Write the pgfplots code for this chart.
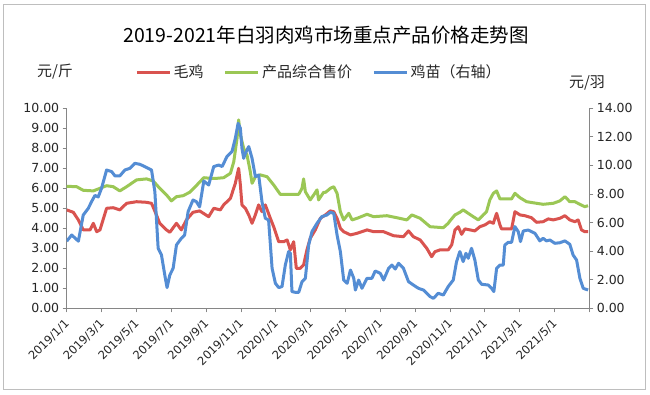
\documentclass[border=0pt]{standalone}
\usepackage{pgfplots}
\pgfplotsset{compat=1.18}
\usepackage{fontspec}
\setmainfont{DejaVu Sans}
\newfontfamily\cjk{Noto Sans CJK SC}
\definecolor{cred}{RGB}{217,83,79}
\definecolor{cgreen}{RGB}{155,199,85}
\definecolor{cblue}{RGB}{84,141,212}
\definecolor{axgray}{RGB}{134,134,134}
\definecolor{bordergray}{RGB}{190,190,190}
\begin{document}
\begin{tikzpicture}[x=1pt,y=1pt]
\path[use as bounding box, fill=white] (0,0) rectangle (650,394);
\draw[bordergray, line width=1pt] (3.5,4.5) rectangle (645,389);
\node[font=\cjk\fontsize{19.5}{22}\selectfont] at (326,359) {2019-2021年白羽肉鸡市场重点产品价格走势图};
\node[font=\cjk\fontsize{15}{17}\selectfont, text=black!85] at (55,322) {元/斤};
\node[font=\cjk\fontsize{15}{17}\selectfont, text=black!85] at (587,311) {元/羽};
\pgfplotsset{
  every axis/.append style={
    at={(66.7pt,85.7pt)}, anchor=south west, scale only axis,
    width=522.6pt, height=200pt, xmin=0, xmax=30,
    axis line style={axgray, line width=0.8pt},
    tick align=outside, major tick length=4pt,
    tick style={axgray, line width=0.8pt},
    ticklabel style={font=\fontsize{12.5}{14}\selectfont, text=black!85},
    /pgf/number format/.cd, fixed, fixed zerofill, precision=2, assume math mode=true,
  }
}
\begin{axis}[
  ymin=0, ymax=10, ytick={0,1,...,10},
  axis y line*=left, axis x line*=bottom,
  xtick={0,2,...,30},
  xticklabels={2019/1/1,2019/3/1,2019/5/1,2019/7/1,2019/9/1,2019/11/1,2020/1/1,2020/3/1,2020/5/1,2020/7/1,2020/9/1,2020/11/1,2021/1/1,2021/3/1,2021/5/1,{}},
  xticklabel style={xshift=3pt, yshift=-7pt, rotate=45, anchor=east, font=\fontsize{11.5}{13}\selectfont},
  legend columns=3,
  legend style={draw=none, fill=none, at={(0.125,1.18)}, anchor=west,
    font=\cjk\fontsize{15}{17}\selectfont, text=black!85,
    /tikz/every even column/.append style={column sep=18pt}},
  legend image code/.code={\draw[line width=3.5pt] (0pt,0pt) -- (33pt,0pt);},
]
\addplot[cred, line width=3pt, line join=round] coordinates {
(0,4.92)(0.38,4.8)(0.67,4.42)(0.95,3.92)(1.34,3.92)(1.53,4.25)(1.72,3.83)(1.91,3.92)(2.29,5.0)(2.67,5.03)(3.05,4.92)(3.44,5.25)(4.01,5.33)(4.58,5.3)(4.87,5.25)(5.15,4.67)(5.34,4.25)(5.73,3.92)(5.92,3.8)(6.30,4.25)(6.58,3.92)(6.87,4.42)(7.25,4.8)(7.63,4.87)(8.15,4.58)(8.44,5.0)(8.82,4.92)(9.01,5.17)(9.40,5.5)(9.68,6.25)(9.87,7.0)(9.97,6.17)(10.06,5.17)(10.26,5.0)(10.45,4.67)(10.64,4.25)(10.83,4.67)(11.02,5.17)(11.21,4.83)(11.40,5.17)(11.69,4.5)(11.88,4.08)(12.17,3.33)(12.46,3.33)(12.65,3.42)(12.84,2.92)(13.03,3.33)(13.18,2.0)(13.41,2.0)(13.60,2.17)(13.79,2.92)(13.98,3.5)(14.27,3.92)(14.56,4.5)(14.85,4.67)(15.13,4.87)(15.33,4.83)(15.52,4.5)(15.71,4.0)(15.90,3.83)(16.29,3.67)(16.67,3.75)(17.24,3.92)(17.62,3.83)(18.19,3.83)(18.76,3.63)(19.33,3.58)(19.62,3.87)(19.90,3.58)(20.29,3.42)(20.67,3.0)(20.95,2.58)(21.14,2.83)(21.43,2.92)(21.90,2.92)(22.10,3.17)(22.29,3.92)(22.48,4.08)(22.67,3.7)(22.86,3.97)(23.15,3.92)(23.43,3.87)(23.72,4.08)(24.01,4.17)(24.29,4.33)(24.49,4.25)(24.68,4.75)(24.87,4.17)(24.96,3.97)(25.54,3.97)(25.73,4.83)(26.02,4.67)(26.30,4.63)(26.68,4.53)(26.97,4.3)(27.35,4.33)(27.64,4.47)(27.93,4.42)(28.31,4.5)(28.60,4.63)(28.88,4.42)(29.17,4.33)(29.36,4.42)(29.55,3.92)(29.74,3.83)(29.93,3.83)
};
\addplot[cgreen, line width=3pt, line join=round] coordinates {
(0,6.1)(0.57,6.08)(0.95,5.9)(1.53,5.87)(1.91,6.0)(2.29,6.13)(2.67,6.08)(3.05,5.87)(3.44,6.08)(4.01,6.42)(4.58,6.47)(4.96,6.37)(5.34,6.0)(5.73,5.67)(6.01,5.37)(6.30,5.58)(6.68,5.63)(7.06,5.8)(7.48,6.17)(7.87,6.53)(8.25,6.5)(8.63,6.5)(9.01,6.53)(9.40,6.75)(9.59,7.33)(9.78,8.5)(9.87,9.42)(9.97,8.67)(10.16,8.0)(10.35,7.67)(10.54,6.83)(10.64,6.25)(10.83,6.58)(11.12,6.67)(11.50,6.58)(11.88,6.17)(12.26,5.7)(12.84,5.7)(13.32,5.7)(13.51,6.0)(13.60,6.47)(13.70,5.83)(13.98,5.42)(14.18,5.67)(14.37,5.92)(14.46,5.42)(14.75,5.8)(14.86,5.8)(15.14,6.0)(15.33,6.08)(15.52,5.75)(15.71,4.83)(15.90,4.42)(16.19,4.75)(16.38,4.42)(16.67,4.5)(17.24,4.7)(17.62,4.58)(18.38,4.63)(18.95,4.53)(19.52,4.42)(19.81,4.67)(20.29,4.5)(20.86,4.08)(21.62,4.03)(21.90,4.25)(22.0,4.37)(22.29,4.67)(22.57,4.8)(22.76,4.92)(23.05,4.75)(23.34,4.58)(23.63,4.42)(23.91,4.67)(24.10,4.83)(24.29,5.42)(24.49,5.75)(24.68,5.87)(24.87,5.47)(25.54,5.47)(25.73,5.75)(26.02,5.53)(26.40,5.33)(26.97,5.25)(27.35,5.2)(27.93,5.25)(28.31,5.37)(28.60,5.58)(28.88,5.33)(29.17,5.33)(29.46,5.2)(29.74,5.08)(29.93,5.13)
};
\addlegendimage{cblue, line width=3pt}
\legend{毛鸡,产品综合售价,鸡苗（右轴）}
\end{axis}
\begin{axis}[
  ymin=0, ymax=14, ytick={0,2,...,14},
  axis y line*=right, axis x line=none,
]
\addplot[cblue, line width=3pt, line join=round] coordinates {
(0,4.7)(0.29,5.13)(0.67,4.7)(0.95,6.53)(1.24,7.0)(1.43,7.47)(1.62,7.9)(1.81,7.8)(2.0,8.4)(2.29,9.68)(2.58,9.57)(2.77,9.27)(3.05,9.27)(3.34,9.68)(3.63,9.8)(3.91,10.15)(4.20,10.08)(4.48,9.92)(4.87,9.68)(5.06,8.17)(5.25,4.2)(5.44,3.73)(5.63,2.33)(5.76,1.45)(5.92,2.33)(6.11,2.8)(6.30,4.43)(6.58,4.9)(6.77,5.13)(6.97,6.77)(7.25,7.58)(7.44,7.47)(7.63,7.1)(7.87,8.91)(8.15,8.63)(8.44,9.92)(8.73,10.03)(8.92,9.92)(9.20,10.62)(9.49,10.97)(9.68,11.9)(9.84,12.95)(9.97,12.6)(10.06,11.2)(10.16,10.5)(10.26,10.85)(10.45,11.32)(10.64,10.5)(10.83,9.22)(11.02,9.33)(11.21,7.47)(11.40,6.3)(11.59,6.18)(11.79,2.8)(11.98,1.75)(12.17,1.45)(12.36,1.52)(12.55,3.03)(12.74,3.97)(12.84,3.85)(12.93,1.17)(13.12,1.12)(13.32,1.12)(13.51,1.87)(13.70,2.1)(13.89,4.43)(14.08,5.37)(14.37,5.95)(14.65,6.42)(14.94,6.53)(15.13,6.72)(15.33,6.65)(15.52,5.13)(15.71,3.97)(15.90,1.98)(16.10,1.75)(16.29,2.68)(16.48,2.1)(16.57,1.28)(16.76,1.98)(16.95,1.4)(17.24,2.1)(17.52,2.1)(17.71,2.61)(18.0,2.45)(18.19,1.98)(18.48,2.8)(18.67,3.03)(18.86,2.75)(19.05,3.15)(19.33,2.8)(19.62,1.87)(19.90,1.63)(20.19,1.4)(20.48,1.28)(20.86,0.82)(21.05,0.7)(21.33,1.05)(21.62,0.93)(21.90,1.52)(22.19,1.98)(22.38,3.27)(22.57,3.97)(22.76,3.27)(22.92,3.85)(23.05,3.5)(23.24,4.2)(23.43,3.38)(23.63,1.98)(23.82,1.68)(24.20,1.63)(24.39,1.4)(24.52,1.17)(24.68,2.8)(24.87,3.03)(25.06,3.03)(25.15,4.43)(25.35,4.62)(25.54,4.62)(25.73,5.72)(25.92,5.37)(26.05,4.67)(26.21,5.41)(26.49,5.48)(26.88,5.25)(27.16,4.72)(27.35,4.9)(27.54,4.72)(27.74,4.78)(28.02,4.55)(28.31,4.59)(28.60,4.72)(28.88,4.48)(29.07,3.73)(29.27,3.38)(29.46,2.1)(29.65,1.4)(29.93,1.28)
};
\end{axis}
\end{tikzpicture}
\end{document}
